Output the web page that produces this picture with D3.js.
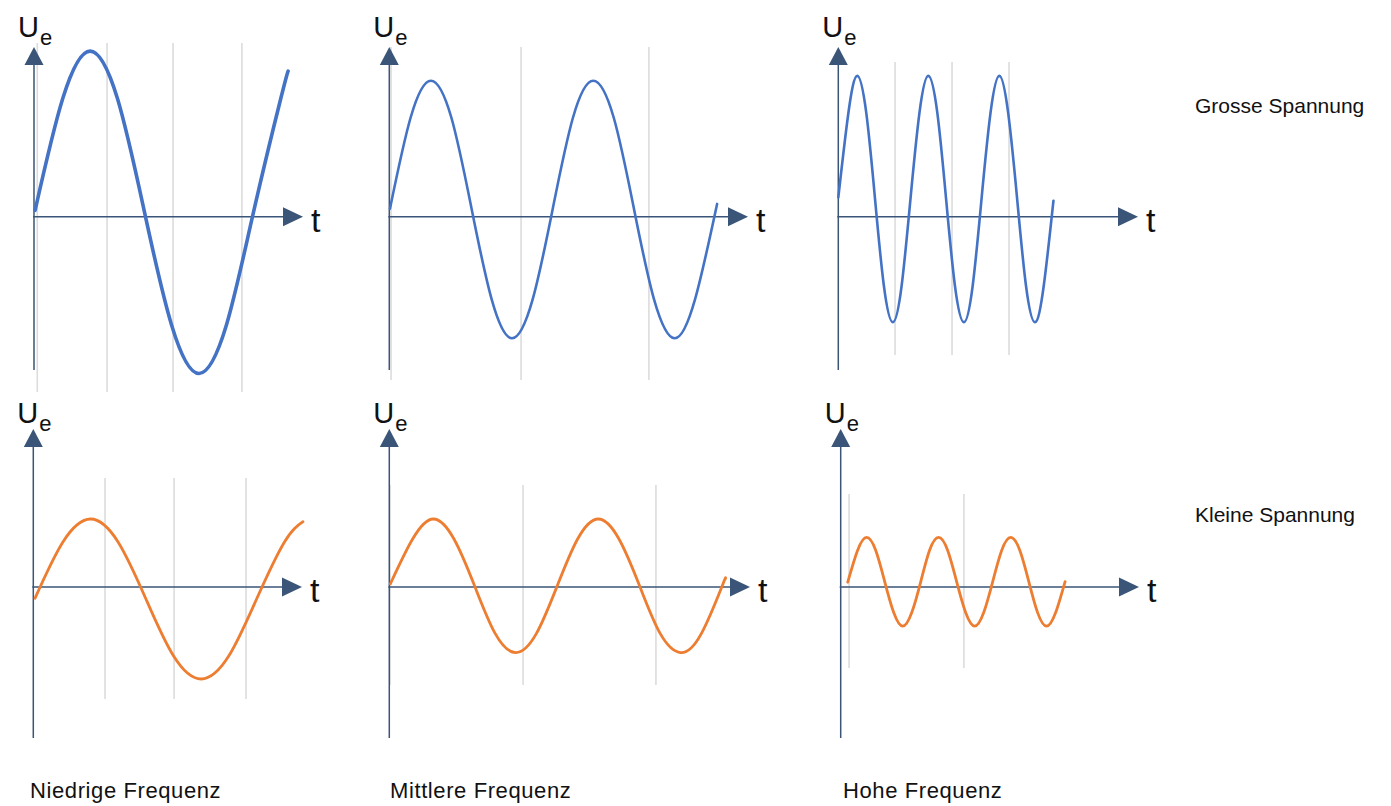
<!DOCTYPE html>
<html>
<head>
<meta charset="utf-8">
<script src="https://cdn.jsdelivr.net/npm/d3@7"></script>
<style>
  html, body { margin: 0; padding: 0; background: #ffffff; }
  svg { display: block; font-family: "Liberation Sans", Arial, Helvetica, sans-serif; }
</style>
</head>
<body>
<svg id="chart" width="1391" height="806"></svg>
<script>
// ---------- DATA (t in ms, U in V) ----------
const rowLabels = ["Grosse Spannung", "Kleine Spannung"];
const columnLabels = ["Niedrige Frequenz", "Mittlere Frequenz", "Hohe Frequenz"];
const yAxisLabel = "U";
const yAxisSub = "e";
const xAxisLabel = "t";

// Grosse Spannung
const grossNiedrig = [[0.05,0.4],[1.31,7.4],[2.55,10.35],[3.79,7.4],[5.02,0.3],[6.26,-6.8],[7.5,-9.8],[8.74,-6.8],[9.98,0.3],[11.22,7.4],[11.55,9.1]];
const grossMittel = [[0.03,0.5],[0.97,6.2],[1.89,8.5],[2.82,6.2],[3.74,0.5],[4.66,-5.2],[5.58,-7.6],[6.51,-5.2],[7.43,0.5],[8.35,6.2],[9.27,8.5],[10.2,6.2],[11.12,0.5],[12.04,-5.2],[12.97,-7.6],[13.89,-5.2],[14.9,0.8]];
const grossHoch = [[0,1.2],[0.46,6.5],[0.86,8.8],[1.27,6.5],[1.67,1.1],[2.07,-4.3],[2.48,-6.6],[2.88,-4.3],[3.28,1.1],[3.69,6.5],[4.09,8.8],[4.5,6.5],[4.9,1.1],[5.3,-4.3],[5.71,-6.6],[6.11,-4.3],[6.51,1.1],[6.92,6.5],[7.32,8.8],[7.72,6.5],[8.13,1.1],[8.53,-4.3],[8.94,-6.6],[9.34,-4.3],[9.78,1.0]];
// Kleine Spannung
const kleinNiedrig = [[0.08,-0.7],[1.34,2.8],[2.6,4.25],[3.86,2.8],[5.12,-0.75],[6.37,-4.3],[7.63,-5.75],[8.89,-4.3],[10.15,-0.75],[11.41,2.8],[12.26,4.08]];
const kleinMittel = [[0.05,0.2],[1.06,3.0],[2.0,4.25],[2.94,3.0],[3.88,0.06],[4.81,-2.9],[5.75,-4.1],[6.69,-2.9],[7.63,0.06],[8.56,3.0],[9.5,4.25],[10.44,3.0],[11.38,0.06],[12.31,-2.9],[13.25,-4.1],[14.19,-2.9],[15.13,0.06],[15.27,0.5]];
const kleinHoch = [[0.32,0.3],[0.77,2.3],[1.18,3.1],[1.59,2.3],[2.0,0.34],[2.41,-1.6],[2.82,-2.45],[3.23,-1.6],[3.64,0.34],[4.04,2.3],[4.45,3.1],[4.86,2.3],[5.27,0.34],[5.68,-1.6],[6.09,-2.45],[6.5,-1.6],[6.91,0.34],[7.32,2.3],[7.73,3.1],[8.14,2.3],[8.55,0.34],[8.95,-1.6],[9.36,-2.45],[9.77,-1.6],[10.2,0.34]];

// grey reference lines: times (ms) and vertical extent (V)
const gridTimes = [
  [0.15, 3.32, 6.32, 9.45], [0.08, 5.99, 11.8], [2.58, 5.17, 7.76],
  [3.26, 6.4, 9.67], [0.03, 6.08, 12.12], [0.38, 5.6]
];
const gridExtent = [
  [10.86, -10.96], [10.6, -10.2], [9.67, -8.64],
  [6.81, -7.0], [6.38, -6.13], [5.81, -5.06]
];

const waves = [grossNiedrig, grossMittel, grossHoch, kleinNiedrig, kleinMittel, kleinHoch];

// ---------- LAYOUT ----------
const L = {
  axisX: [[34, 389.3, 838.3], [33.3, 389.3, 840.7]],
  tipX: [[303, 748, 1138], [302, 750, 1139]],
  axisY: [216.7, 587],
  tipY: [47, 429],
  bottomY: [370, 738],
  uBase: [37, 423],
  pxPerMs: 22,
  pxPerV: 16
};
const rowColor = ["#4472c4", "#ed7d31"];
const rowWidth = [[3.6, 2.6, 2.6], [2.8, 2.8, 2.8]];
const axisColor = "#3a5577";
const gridColor = "#dcdcdc";

const svg = d3.select("#chart");

waves.forEach((data, i) => {
  const r = Math.floor(i / 3), c = i % 3;
  const x0 = L.axisX[r][c], x1 = L.tipX[r][c];
  const ay = L.axisY[r];
  const x = d3.scaleLinear().domain([0, (x1 - x0) / L.pxPerMs]).range([x0, x1]);
  const y = d3.scaleLinear().domain([0, 1]).range([ay, ay - L.pxPerV]);
  const g = svg.append("g");

  // grid lines
  g.selectAll("line.grid").data(gridTimes[i]).join("line")
    .attr("class", "grid")
    .attr("x1", d => x(d)).attr("x2", d => x(d))
    .attr("y1", y(gridExtent[i][0])).attr("y2", y(gridExtent[i][1]))
    .attr("stroke", gridColor).attr("stroke-width", 1.6);

  // axes
  const tipY = L.tipY[r];
  g.append("line").attr("x1", x0).attr("x2", x0).attr("y1", tipY + 16).attr("y2", L.bottomY[r])
    .attr("stroke", axisColor).attr("stroke-width", 1.5);
  g.append("line").attr("x1", x0 - 1).attr("x2", x1 - 18).attr("y1", ay).attr("y2", ay)
    .attr("stroke", axisColor).attr("stroke-width", 1.5);

  // wave
  const line = d3.line().x(d => x(d[0])).y(d => y(d[1])).curve(d3.curveNatural);
  g.append("path").attr("d", line(data))
    .attr("fill", "none").attr("stroke", rowColor[r])
    .attr("stroke-width", rowWidth[r][c]).attr("stroke-linecap", "round");

  // arrow heads
  g.append("path")
    .attr("d", `M${x0},${tipY} L${x0 + 9.5},${tipY + 18} L${x0 - 9.5},${tipY + 18} Z`)
    .attr("fill", axisColor);
  g.append("path")
    .attr("d", `M${x1},${ay} L${x1 - 20},${ay - 9.5} L${x1 - 20},${ay + 9.5} Z`)
    .attr("fill", axisColor);

  // axis labels
  const ut = g.append("text").attr("x", x0 - 16).attr("y", L.uBase[r])
    .attr("font-size", 29).attr("fill", "#111");
  ut.append("tspan").text(yAxisLabel);
  ut.append("tspan").attr("font-size", 22).attr("dx", 1).attr("dy", 8).text(yAxisSub);

  g.append("text").attr("x", x1 + 8).attr("y", ay + 15)
    .attr("font-size", 34).attr("fill", "#111").text(xAxisLabel);
});

// row labels
const rowLabelY = [113, 522];
svg.selectAll("text.row").data(rowLabels).join("text")
  .attr("class", "row")
  .attr("x", 1195).attr("y", (d, i) => rowLabelY[i])
  .attr("font-size", 21).attr("fill", "#111").text(d => d);

// column labels
const colLabelX = [30, 390, 843];
svg.selectAll("text.col").data(columnLabels).join("text")
  .attr("class", "col")
  .attr("x", (d, i) => colLabelX[i]).attr("y", 798)
  .attr("font-size", 22).attr("letter-spacing", 0.6).attr("fill", "#111").text(d => d);
</script>
</body>
</html>
